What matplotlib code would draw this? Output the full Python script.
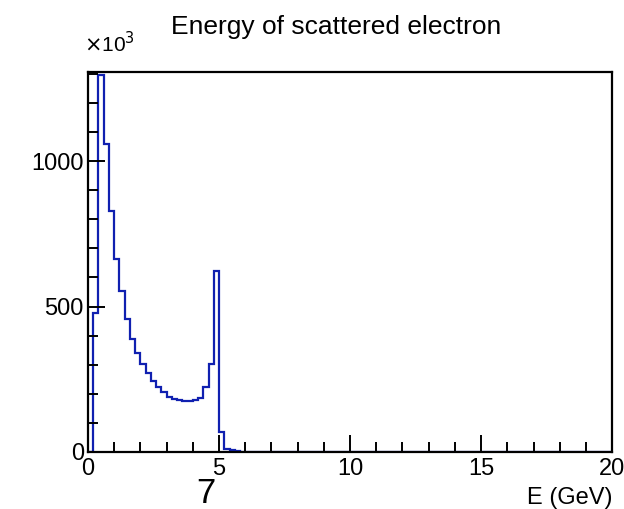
import numpy as np
import matplotlib
matplotlib.use("Agg")
import matplotlib.pyplot as plt
from matplotlib.ticker import MultipleLocator

plt.rcParams['font.family'] = ['Liberation Sans', 'DejaVu Sans']

# histogram: 100 bins of 0.2 GeV from 0 to 20, counts in units of 10^3
bin_lo = 0.0
bin_hi = 20.0
n_bins = 100
counts_low = [0, 479, 1295, 1058, 828, 664, 554, 457, 390, 340,
              302, 270, 245, 224, 205, 190, 182, 178, 176, 175,
              177, 187, 224, 302, 621, 70, 12, 7, 4, 0]
counts = counts_low + [0] * (n_bins - len(counts_low))

title = "Energy of scattered electron"
xlabel = "E (GeV)"

fig = plt.figure(figsize=(6.24, 5.09), dpi=100)
ax = fig.add_axes([0.141, 0.112, 0.840, 0.746])

edges = np.linspace(bin_lo, bin_hi, n_bins + 1)
ax.stairs(counts, edges, color='#1020b0', linewidth=1.6, baseline=0)

ax.set_xlim(bin_lo, bin_hi)
ax.set_ylim(0, 1305)

ax.xaxis.set_major_locator(MultipleLocator(5))
ax.xaxis.set_minor_locator(MultipleLocator(1))
ax.yaxis.set_major_locator(MultipleLocator(500))
ax.yaxis.set_minor_locator(MultipleLocator(100))
ax.tick_params(which='both', direction='in', top=False, right=False,
               labelsize=17, width=1.4, color='black')
ax.tick_params(which='major', length=12)
ax.tick_params(which='minor', length=7)
ax.tick_params(axis='x', pad=4)
ax.tick_params(axis='y', pad=3)
for s in ax.spines.values():
    s.set_linewidth(1.6)

ax.set_xlabel(xlabel, fontsize=17)
ax.xaxis.set_label_coords(1.0, -0.092)
ax.xaxis.label.set_horizontalalignment('right')

fig.text(0.539, 0.947, title, ha='center', va='center', fontsize=19)
fig.text(0.135, 0.915, r"$\times$10$^3$", ha='left', va='center', fontsize=15)
fig.text(0.33, 0.03, "7", ha='center', va='center', fontsize=25)

fig.savefig("out.png", dpi=100)
